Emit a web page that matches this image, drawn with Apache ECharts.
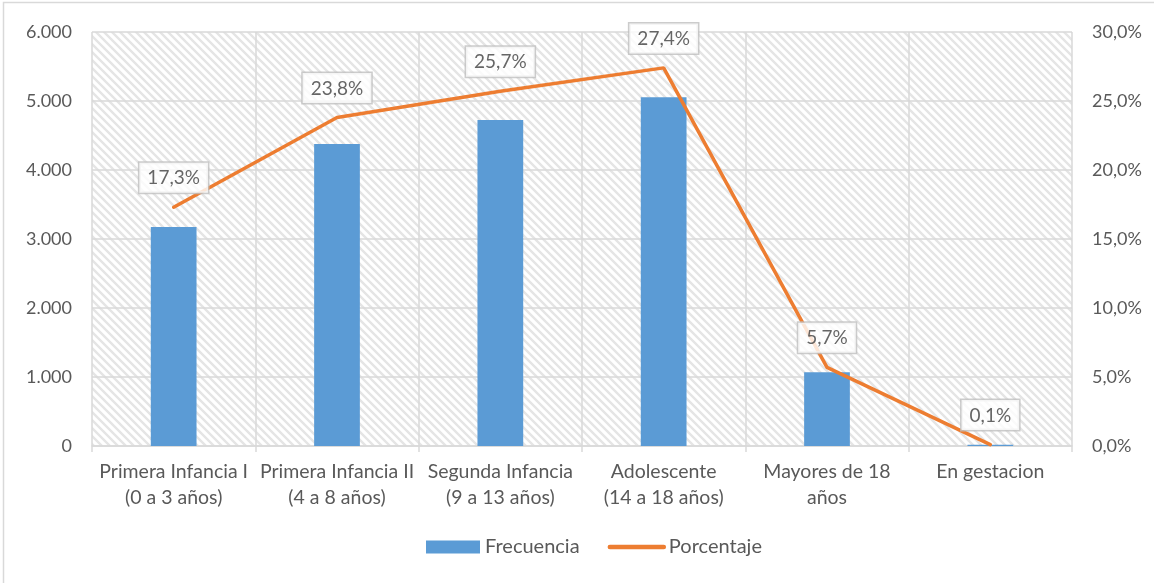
<!DOCTYPE html>
<html>
<head>
<meta charset="utf-8">
<script src="https://cdn.jsdelivr.net/npm/echarts@6/dist/echarts.min.js"></script>
<style>
  html, body { margin: 0; padding: 0; background: #fff; }
  #main { width: 1154px; height: 583px; }
</style>
</head>
<body>
<div id="main"></div>
<script>
// categorias del eje X
var categorias = [
  "Primera Infancia I\n(0 a 3 años)",
  "Primera Infancia II\n(4 a 8 años)",
  "Segunda Infancia\n(9 a 13 años)",
  "Adolescente\n(14 a 18 años)",
  "Mayores de 18\naños",
  "En gestacion"
];
// frecuencia (eje izquierdo)
var frecuencia = [3175, 4378, 4725, 5055, 1068, 18];
// porcentaje (eje derecho)
var porcentaje = [17.3, 23.8, 25.7, 27.4, 5.7, 0.1];

var fuente = "Lato, 'Open Sans', sans-serif";
var gris = "#595959";

// patron de rayas diagonales para el fondo del area
function rayas() {
  var c = document.createElement("canvas");
  c.width = 8;
  c.height = 8;
  var ctx = c.getContext("2d");
  ctx.fillStyle = "#ffffff";
  ctx.fillRect(0, 0, 8, 8);
  ctx.strokeStyle = "#e5e5e5";
  ctx.lineWidth = 2.4;
  ctx.beginPath();
  ctx.moveTo(-1, -1); ctx.lineTo(9, 9);
  ctx.moveTo(-1, 7); ctx.lineTo(1, 9);
  ctx.moveTo(7, -1); ctx.lineTo(9, 1);
  ctx.stroke();
  return c;
}

function pct(v) {
  return v.toFixed(1).replace(".", ",") + "%";
}

var myChart = echarts.init(document.getElementById("main"));
myChart.setOption({
  animation: false,
  backgroundColor: "#fff",
  textStyle: { fontFamily: fuente },
  graphic: [
    {
      type: "rect",
      shape: { x: 3.5, y: 2.5, width: 1200, height: 700 },
      style: { fill: null, stroke: "#d9d9d9", lineWidth: 1.5 },
      silent: true
    }
  ],
  grid: {
    left: 92,
    right: 82,
    top: 32,
    bottom: 137,
    show: true,
    borderWidth: 0,
    backgroundColor: { image: rayas(), repeat: "repeat" }
  },
  legend: {
    bottom: 21,
    left: 421,
    itemGap: 28,
    itemWidth: 54,
    itemHeight: 13,
    textStyle: { fontSize: 20, color: gris, fontFamily: fuente },
    data: [
      { name: "Frecuencia", icon: "rect" },
      {
        name: "Porcentaje",
        itemStyle: { color: "rgba(0,0,0,0)", borderWidth: 0 },
        lineStyle: { color: "#ed7d31", width: 4.5, cap: "round" }
      }
    ]
  },
  xAxis: {
    type: "category",
    data: categorias,
    boundaryGap: true,
    axisLine: { lineStyle: { color: "#d9d9d9", width: 1.5 } },
    axisTick: { show: true, length: 6, lineStyle: { color: "#d9d9d9", width: 1.5 } },
    splitLine: { show: true, lineStyle: { color: "#d9d9d9", width: 1.5 } },
    axisLabel: {
      color: gris,
      fontSize: 19.5,
      lineHeight: 26,
      margin: 13,
      interval: 0,
      fontFamily: fuente
    }
  },
  yAxis: [
    {
      type: "value",
      min: 0,
      max: 6000,
      interval: 1000,
      axisLine: { show: false },
      axisTick: { show: false },
      splitLine: { lineStyle: { color: "#d9d9d9", width: 1.5 } },
      axisLabel: {
        color: gris,
        fontSize: 18,
        margin: 20,
        fontFamily: fuente,
        formatter: function (v) {
          return String(v).replace(/\B(?=(\d{3})+(?!\d))/g, ".");
        }
      }
    },
    {
      type: "value",
      min: 0,
      max: 30,
      interval: 5,
      axisLine: { show: false },
      axisTick: { show: false },
      splitLine: { show: false },
      axisLabel: {
        color: gris,
        fontSize: 18,
        margin: 20,
        fontFamily: fuente,
        formatter: pct
      }
    }
  ],
  series: [
    {
      name: "Frecuencia",
      type: "bar",
      yAxisIndex: 0,
      barWidth: "28%",
      itemStyle: { color: "#5b9bd5" },
      data: frecuencia
    },
    {
      name: "Porcentaje",
      type: "line",
      yAxisIndex: 1,
      symbol: "none",
      lineStyle: { color: "#ed7d31", width: 3.5, cap: "round" },
      itemStyle: { color: "#ed7d31" },
      data: porcentaje
    },
    {
      // etiquetas de porcentaje
      name: "etiquetas",
      type: "scatter",
      yAxisIndex: 1,
      z: 10,
      zlevel: 1,
      symbolSize: 1,
      itemStyle: { color: "rgba(0,0,0,0)" },
      label: {
        show: true,
        position: "top",
        distance: 14,
        color: "#404040",
        fontSize: 19,
        fontFamily: fuente,
        backgroundColor: "#fff",
        borderColor: "#bfbfbf",
        borderWidth: 1.5,
        padding: [6, 8, 5, 8],
        formatter: function (p) {
          return pct(p.value);
        }
      },
      data: porcentaje
    }
  ]
});
</script>
</body>
</html>
